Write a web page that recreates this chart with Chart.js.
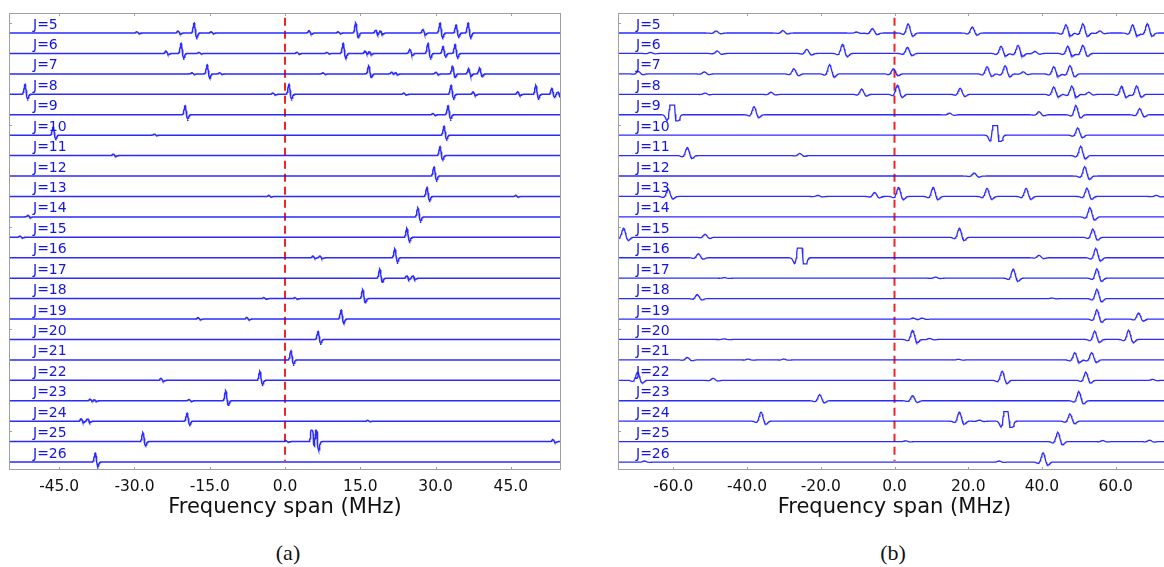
<!DOCTYPE html>
<html>
<head>
<meta charset="utf-8">
<script src="https://cdn.jsdelivr.net/npm/chart.js@4.4.1/dist/chart.umd.min.js"></script>
<style>
html, body { margin: 0; padding: 0; background: #fff; overflow: hidden; width: 1164px; height: 567px; }
canvas { position: absolute; top: 0; }
#chart-a { left: 0; }
#chart-b { left: 600px; }
.cap { position: absolute; top: 553px; transform: translate(-50%, -50%); font-family: 'Liberation Serif', serif; font-size: 22px; color: #111; }
</style>
</head>
<body>
<canvas id="chart-a" width="582" height="530"></canvas>
<canvas id="chart-b" width="600" height="530"></canvas>
<div class="cap" style="left:288px">(a)</div>
<div class="cap" style="left:893px">(b)</div>
<script>
// Stacked rotational spectra, J=5 .. J=26, two frequency spans

const jLabels = ['J=5', 'J=6', 'J=7', 'J=8', 'J=9', 'J=10', 'J=11', 'J=12', 'J=13', 'J=14', 'J=15',
    'J=16', 'J=17', 'J=18', 'J=19', 'J=20', 'J=21', 'J=22', 'J=23', 'J=24', 'J=25', 'J=26'];
const ticksA = [-45, -30, -15, 0, 15, 30, 45];
const ticksB = [-60, -40, -20, 0, 20, 40, 60];
const yMarks = [1.5, 6.5, 11.5, 16.5, 21.5];

// lines per J: [position MHz, height in trace spacings]
const peaksA = [
    [[-29.5, 0.06], [-21.3, 0.1], [-18.1, 0.5], [-14.7, 0.06], [4.8, 0.12], [10.6, 0.06], [14.1, 0.5], [18.1, 0.15], [19.0, 0.12], [27.5, 0.18], [30.9, 0.5], [34.1, 0.4], [36.5, 0.5]],
    [[-23.7, 0.12], [-20.7, 0.5], [-17.1, 0.05], [2.4, 0.06], [8.4, 0.05], [11.6, 0.5], [16.0, 0.12], [16.8, 0.1], [24.9, 0.2], [28.5, 0.5], [31.5, 0.35], [33.9, 0.45]],
    [[-18.5, 0.06], [-15.5, 0.45], [-13.0, 0.05], [7.6, 0.05], [16.7, 0.4], [21.3, 0.08], [22.0, 0.08], [30.1, 0.08], [33.4, 0.4], [36.6, 0.25], [38.8, 0.3]],
    [[-51.8, 0.5], [-2.4, 0.06], [0.8, 0.5], [23.7, 0.06], [33.1, 0.45], [37.5, 0.12], [46.4, 0.12], [50.0, 0.45], [53.2, 0.3], [54.4, 0.12]],
    [[-19.9, 0.45], [29.5, 0.06], [32.5, 0.45]],
    [[-46.2, 0.4], [-26.0, 0.05], [31.7, 0.45]],
    [[-34.2, 0.08], [30.9, 0.45]],
    [[29.7, 0.45]],
    [[-3.2, 0.05], [28.3, 0.45], [46.0, 0.05]],
    [[-51.2, 0.08], [26.5, 0.45]],
    [[-52.8, 0.06], [24.3, 0.45]],
    [[5.6, 0.08], [7.0, 0.08], [21.9, 0.45]],
    [[18.9, 0.45], [24.3, 0.12], [25.5, 0.12]],
    [[-4.2, 0.05], [2.0, 0.05], [15.5, 0.45]],
    [[-17.3, 0.07], [-7.6, 0.08], [11.2, 0.45]],
    [[6.6, 0.4]],
    [[1.2, 0.45]],
    [[-24.7, 0.1], [-5.0, 0.45]],
    [[-38.8, 0.08], [-38.0, 0.06], [-19.1, 0.06], [-11.8, 0.5]],
    [[-40.6, 0.12], [-39.3, 0.12], [-19.5, 0.4], [16.5, 0.04]],
    [[-28.3, 0.45], [0.2, 0.05], [5.4, 1.0], [6.2, 1.0], [53.4, 0.1]],
    [[-37.8, 0.45]]
];

const peaksB = [
    [[-48.4, 0.1], [-30.3, 0.12], [-10.3, 0.05], [-6.0, 0.22], [3.7, 0.45], [21.1, 0.3], [46.5, 0.4], [51.1, 0.45], [55.7, 0.1], [64.6, 0.4], [68.6, 0.45]],
    [[-66.2, 0.05], [-48.1, 0.12], [-23.8, 0.2], [-14.1, 0.45], [3.5, 0.3], [28.9, 0.35], [33.5, 0.4], [38.1, 0.1], [47.0, 0.35], [51.1, 0.4]],
    [[-69.5, 0.12], [-51.6, 0.1], [-27.3, 0.25], [-17.6, 0.45], [-0.3, 0.25], [25.1, 0.35], [30.0, 0.4], [34.9, 0.1], [43.2, 0.35], [47.6, 0.4]],
    [[-51.4, 0.06], [-33.5, 0.1], [-8.9, 0.25], [0.8, 0.45], [17.8, 0.3], [43.2, 0.35], [48.1, 0.4], [52.7, 0.1], [61.6, 0.4], [65.7, 0.4]],
    [[-60.3, 2.0], [-38.1, 0.4], [14.9, 0.08], [39.2, 0.15], [49.2, 0.45], [66.5, 0.3]],
    [[27.3, 2.0], [49.7, 0.35]],
    [[-56.2, 0.4], [-25.7, 0.1], [50.5, 0.45]],
    [[21.6, 0.15], [51.6, 0.45]],
    [[-61.4, 0.35], [-20.8, 0.05], [-5.4, 0.2], [1.1, 0.45], [10.5, 0.45], [25.1, 0.4], [35.7, 0.4], [52.2, 0.4], [71.0, 0.05]],
    [[53.0, 0.45]],
    [[-73.5, 0.45], [-51.4, 0.15], [17.6, 0.45], [53.8, 0.4]],
    [[-53.2, 0.2], [-25.7, 2.0], [39.2, 0.12], [54.6, 0.45]],
    [[-46.2, 0.03], [11.1, 0.05], [32.2, 0.45], [54.9, 0.45]],
    [[-53.5, 0.2], [42.7, 0.03], [54.9, 0.45]],
    [[5.1, 0.05], [7.5, 0.05], [54.9, 0.45], [66.2, 0.3]],
    [[-46.2, 0.03], [4.9, 0.45], [9.5, 0.05], [54.3, 0.4], [63.5, 0.45]],
    [[-56.2, 0.12], [-39.7, 0.04], [-30.0, 0.04], [17.3, 0.03], [48.9, 0.35], [53.5, 0.35]],
    [[-69.7, 0.4], [-49.2, 0.1], [29.2, 0.45], [51.9, 0.4], [70.0, 0.05]],
    [[-20.3, 0.3], [4.9, 0.25], [50.0, 0.45]],
    [[-36.2, 0.45], [17.6, 0.45], [23.0, 0.05], [30.3, 2.0], [47.6, 0.35]],
    [[3.0, 0.04], [44.3, 0.45], [56.5, 0.05], [69.2, 0.07]],
    [[-67.8, 0.05], [28.4, 0.05], [40.3, 0.45]]
];

// line shape of each panel (width in MHz, side lobes, clipping)
const shapeA = { w: 0.28, off: 1.7, pre: 0.0, post: 0.5, lo: -0.4, hi: 0.55 };
const shapeB = { w: 0.65, off: 2.0, pre: 0.15, post: 0.35, lo: -0.3, hi: 0.47 };

function traceY(peaks, x, s) {
    let y = 0;
    peaks.forEach(([x0, h]) => {
        const u = (x - x0) / s.w;
        if (Math.abs(u) > 8) return;
        const up = u + s.off, dn = u - s.off;
        y += h * (Math.exp(-u * u) - s.pre * Math.exp(-up * up) - s.post * Math.exp(-dn * dn));
    });
    return Math.max(s.lo, Math.min(s.hi, y));
}

function tracePoints(peaks, s, min, max, base) {
    const xs = [min, max];
    peaks.forEach(([x0]) => {
        for (let k = -24; k <= 24; k++) xs.push(x0 + k * s.w / 4);
    });
    return xs.filter(x => x >= min && x <= max).sort((a, b) => a - b)
        .map(x => ({ x: x, y: base + traceY(peaks, x, s) }));
}

const decor = {
    id: 'decor',
    afterDatasetsDraw(chart, args, opts) {
        const { ctx, chartArea: a, scales: { x, y } } = chart;
        ctx.save();
        ctx.font = '14px "DejaVu Sans"';
        ctx.fillStyle = '#1414e6';
        ctx.textBaseline = 'alphabetic';
        jLabels.forEach((t, i) => {
            ctx.fillText(t, a.left + opts.labelX, y.getPixelForValue(jLabels.length - 1 - i) - 4.5);
        });

        // frame with inward ticks
        ctx.strokeStyle = '#a0a0a0';
        ctx.lineWidth = 1;
        ctx.strokeRect(Math.round(a.left) + 0.5, Math.round(a.top) + 0.5, Math.round(a.width) - 1, Math.round(a.height) - 1);
        ctx.beginPath();
        opts.ticks.forEach(v => {
            const px = Math.round(x.getPixelForValue(v)) + 0.5;
            ctx.moveTo(px, a.top); ctx.lineTo(px, a.top + 3);
            ctx.moveTo(px, a.bottom); ctx.lineTo(px, a.bottom - 3);
        });
        yMarks.forEach(v => {
            const py = Math.round(y.getPixelForValue(v)) + 0.5;
            ctx.moveTo(a.left, py); ctx.lineTo(a.left + 3, py);
        });
        ctx.stroke();
        ctx.restore();
    }
};

function makePanel(id, peaks, shape, min, max, ticks, pad, labelX, lw) {
    const datasets = peaks.map((p, i) => ({
        data: tracePoints(p, shape, min, max, peaks.length - 1 - i),
        borderColor: 'rgba(25, 25, 255, 0.92)',
        borderWidth: lw,
        pointRadius: 0,
        tension: 0
    }));
    datasets.push({
        data: [{ x: 0, y: 21.75 }, { x: 0, y: 0.05 }],
        borderColor: '#f02424',
        borderWidth: 2,
        borderDash: [8, 5],
        pointRadius: 0
    });

    new Chart(document.getElementById(id), {
        type: 'line',
        data: { datasets: datasets },
        options: {
            responsive: false,
            animation: false,
            events: [],
            parsing: false,
            layout: { padding: pad },
            plugins: {
                legend: { display: false },
                tooltip: { enabled: false },
                decor: { labelX: labelX, ticks: ticks }
            },
            scales: {
                x: {
                    type: 'linear',
                    min: min,
                    max: max,
                    afterBuildTicks: s => { s.ticks = ticks.map(v => ({ value: v })); },
                    afterFit: s => { s.height = 50; },
                    grid: { display: false, drawTicks: false },
                    border: { display: false },
                    ticks: {
                        color: '#111',
                        font: { family: 'DejaVu Sans', size: 15.5 },
                        padding: 8,
                        maxRotation: 0,
                        autoSkip: false,
                        callback: v => v.toFixed(1)
                    },
                    title: {
                        display: true,
                        text: 'Frequency span (MHz)',
                        color: '#111',
                        font: { family: 'DejaVu Sans', size: 21 },
                        padding: 0
                    }
                },
                y: {
                    type: 'linear',
                    display: false,
                    min: -0.39,
                    max: 21.98
                }
            }
        },
        plugins: [decor]
    });
}

makePanel('chart-a', peaksA, shapeA, -55, 55, ticksA, { left: 9, right: 21, top: 13, bottom: 10 }, 24, 1.5);
makePanel('chart-b', peaksB, shapeB, -75, 75, ticksB, { left: 18, right: 29, top: 13, bottom: 10 }, 18, 1.3);
</script>
</body>
</html>
